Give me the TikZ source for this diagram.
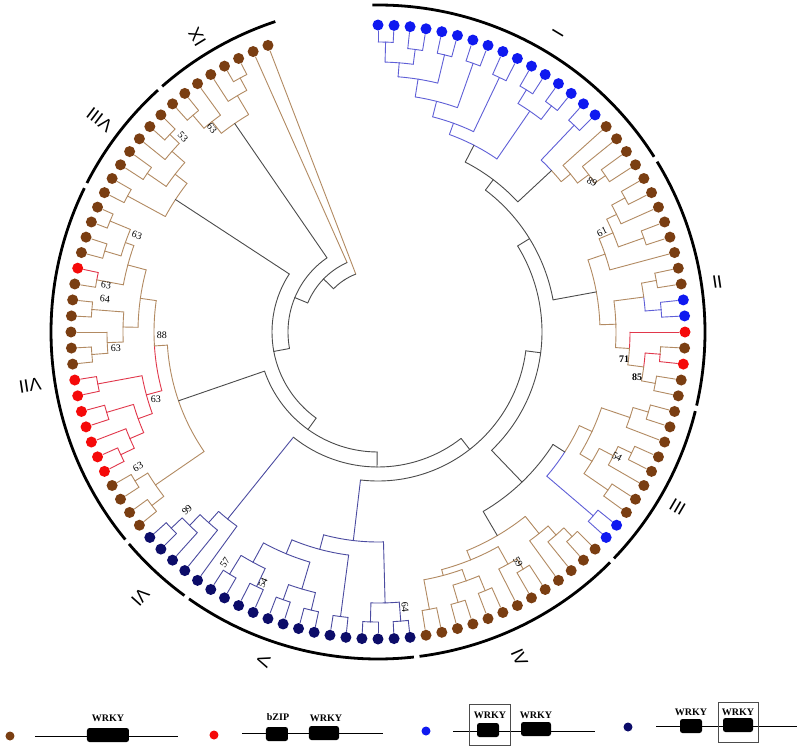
\documentclass[tikz,border=0pt]{standalone}
\usepackage{fontspec}
\setmainfont{Liberation Serif}
\newfontfamily\romfont{Liberation Sans}
\definecolor{tn}{RGB}{178,138,98}
\definecolor{bl}{RGB}{95,95,215}
\definecolor{nv}{RGB}{75,75,160}
\definecolor{rd}{RGB}{225,55,75}
\definecolor{gr}{RGB}{75,75,75}
\definecolor{dbr}{RGB}{122,62,18}
\definecolor{drd}{RGB}{245,10,10}
\definecolor{dbl}{RGB}{15,25,240}
\definecolor{dnv}{RGB}{12,12,105}
\newcommand{\TNode}[7]{%
 \draw[color=#1,brl] ({90-(#4)}:#6pt) arc[start angle={90-(#4)}, end angle={90-((#4)+(#5))/2}, radius=#6pt];
 \draw[color=#2,brl] ({90-((#4)+(#5))/2}:#6pt) arc[start angle={90-((#4)+(#5))/2}, end angle={90-(#5)}, radius=#6pt];
 \draw[color=#3,brl] ({90-((#4)+(#5))/2}:#7pt) -- ({90-((#4)+(#5))/2}:#6pt);}
\newcommand{\TLeaf}[3]{\draw[color=#1,brl] ({90-3*(#2)}:#3pt) -- ({90-3*(#2)}:301pt);}
\newcommand{\CladeArc}[2]{\draw[cladearc] ({90-(#1)}:327pt) arc[start angle={90-(#1)}, end angle={90-(#2)}, radius=327pt];}
\begin{document}
\begin{tikzpicture}[x=1pt,y=1pt,
 brl/.style={line width=0.9pt, line cap=round},
 cladearc/.style={line width=2.8pt, black},
 dot/.style={circle, inner sep=0pt, minimum size=11pt, draw=none},
 rom/.style={font=\romfont\fontsize{18}{18}\selectfont, inner sep=0pt},
 bs/.style={font=\fontsize{10}{10}\selectfont, inner sep=0pt},
 bsb/.style={font=\fontsize{10}{10}\selectfont\bfseries, inner sep=0pt},
 keyline/.style={line width=1pt, black},
 dombox/.style={fill=black, rounded corners=2.5pt, inner sep=0pt, minimum height=14pt},
 domlab/.style={font=\fontsize{10}{10}\selectfont\bfseries, inner sep=0pt},
 framebox/.style={draw=black!70, line width=0.6pt, inner sep=0pt}]
\useasboundingbox (-378,-416) rectangle (422,332);
\fill[white] (-378,-416) rectangle (422,332);

% ---------- leaf branches ----------
\foreach \ii/\rr/\cc in {0/290/bl,1/290/bl,2/285/bl,3/285/bl,4/285/bl,5/285/bl,6/285/bl,7/285/bl,8/282/bl,9/282/bl,10/284/bl,11/284/bl,12/285/bl,13/285/bl,14/285/bl,15/285/bl,
16/249/tn,17/263/tn,18/276/tn,19/276/tn,
20/281/tn,21/281/tn,22/266/tn,23/282/tn,24/282/tn,25/240/tn,26/283/tn,27/283/tn,28/284/bl,29/284/bl,30/252/rd,31/283/tn,32/283/rd,33/282/tn,34/282/tn,
35/282/tn,36/282/tn,37/266/tn,38/281/tn,39/281/tn,40/266/tn,41/279/tn,42/279/tn,43/283/bl,44/283/bl,
45/282/tn,46/282/tn,47/270/tn,48/258/tn,49/278/tn,50/278/tn,51/266/tn,52/280/tn,53/280/tn,54/282/tn,55/282/tn,56/282/tn,57/282/tn,
58/290/nv,59/290/nv,60/290/nv,61/290/nv,62/287/nv,63/287/nv,64/286/nv,65/286/nv,66/284/nv,67/284/nv,68/282/nv,69/282/nv,70/284/nv,71/284/nv,
72/240/nv,73/255/nv,74/270/nv,75/285/nv,76/285/nv,
77/285/tn,78/285/tn,79/285/tn,80/285/tn,81/285/rd,82/285/rd,83/270/rd,84/283/rd,85/283/rd,86/285/rd,87/285/rd,
88/287/tn,89/287/tn,90/271/tn,91/287/tn,92/287/tn,93/286/tn,94/286/rd,95/285/tn,96/285/tn,97/290/tn,98/290/tn,
99/285/tn,100/285/tn,101/280/tn,102/280/tn,103/274/tn,104/287/tn,105/287/tn,
106/285/tn,107/285/tn,108/268/tn,109/275/tn,110/289/tn,111/289/tn,112/76/tn,113/62/tn}
{\TLeaf{\cc}{\ii}{\rr}}

% ---------- clade I ----------
\TNode{bl}{bl}{bl}{0}{3}{290}{270}
\TNode{bl}{bl}{bl}{6}{9}{285}{270}
\TNode{bl}{bl}{bl}{1.5}{7.5}{270}{256}
\TNode{bl}{bl}{bl}{12}{15}{285}{256}
\TNode{bl}{bl}{bl}{4.5}{13.5}{256}{238}
\TNode{bl}{bl}{bl}{18}{21}{285}{238}
\TNode{bl}{bl}{bl}{9}{19.5}{238}{222}
\TNode{bl}{bl}{bl}{24}{27}{282}{222}
\TNode{bl}{bl}{bl}{14.25}{25.5}{222}{210}
\TNode{bl}{bl}{bl}{30}{33}{284}{268}
\TNode{bl}{bl}{bl}{36}{39}{285}{268}
\TNode{bl}{bl}{bl}{31.5}{37.5}{268}{210}
\TNode{bl}{bl}{gr}{19.875}{34.5}{210}{191}
\TNode{bl}{bl}{bl}{42}{45}{285}{237}
\TNode{tn}{tn}{tn}{54}{57}{276}{263}
\TNode{tn}{tn}{tn}{51}{55.5}{263}{249}
\TNode{tn}{tn}{tn}{48}{53.25}{249}{237}
\TNode{bl}{tn}{gr}{43.5}{50.625}{237}{191}
\TNode{gr}{gr}{gr}{27.1875}{47.0625}{191}{178}
% ---------- clade II ----------
\TNode{tn}{tn}{tn}{60}{63}{281}{266}
\TNode{tn}{tn}{tn}{61.5}{66}{266}{255}
\TNode{tn}{tn}{tn}{69}{72}{282}{255}
\TNode{tn}{tn}{tn}{63.75}{70.5}{255}{240}
\TNode{tn}{tn}{tn}{67.125}{75}{240}{222}
\TNode{tn}{tn}{tn}{78}{81}{283}{268}
\TNode{bl}{bl}{bl}{84}{87}{284}{268}
\TNode{tn}{bl}{tn}{79.5}{85.5}{268}{238}
\TNode{tn}{rd}{rd}{93}{96}{283}{268}
\TNode{tn}{tn}{tn}{99}{102}{282}{268}
\TNode{rd}{tn}{tn}{94.5}{100.5}{268}{252}
\TNode{rd}{tn}{tn}{90}{97.5}{252}{238}
\TNode{tn}{tn}{tn}{82.5}{93.75}{238}{222}
\TNode{tn}{tn}{gr}{71.0625}{88.125}{222}{178}
\TNode{gr}{gr}{gr}{37.125}{79.59}{178}{164}
% ---------- clade III ----------
\TNode{tn}{tn}{tn}{105}{108}{282}{266}
\TNode{tn}{tn}{tn}{106.5}{111}{266}{236}
\TNode{tn}{tn}{tn}{114}{117}{281}{266}
\TNode{tn}{tn}{tn}{115.5}{120}{266}{250}
\TNode{tn}{tn}{tn}{123}{126}{279}{250}
\TNode{tn}{tn}{tn}{117.75}{124.5}{250}{236}
\TNode{tn}{tn}{tn}{108.75}{121.125}{236}{222}
\TNode{bl}{bl}{bl}{129}{132}{283}{222}
\TNode{tn}{bl}{gr}{114.94}{130.5}{222}{208}
% ---------- clade IV ----------
\TNode{tn}{tn}{tn}{135}{138}{282}{270}
\TNode{tn}{tn}{tn}{136.5}{141}{270}{258}
\TNode{tn}{tn}{tn}{138.75}{144}{258}{236}
\TNode{tn}{tn}{tn}{147}{150}{278}{266}
\TNode{tn}{tn}{tn}{148.5}{153}{266}{246}
\TNode{tn}{tn}{tn}{156}{159}{280}{264}
\TNode{tn}{tn}{tn}{162}{165}{282}{264}
\TNode{tn}{tn}{tn}{157.5}{163.5}{264}{252}
\TNode{tn}{tn}{tn}{168}{171}{282}{252}
\TNode{tn}{tn}{tn}{160.5}{169.5}{252}{246}
\TNode{tn}{tn}{tn}{150.75}{165}{246}{236}
\TNode{tn}{tn}{gr}{141.375}{157.875}{236}{208}
\TNode{gr}{gr}{gr}{122.72}{149.625}{208}{164}
\TNode{gr}{gr}{gr}{58.36}{136.17}{164}{149}
% ---------- clade V ----------
\TNode{nv}{nv}{nv}{174}{177}{290}{271}
\TNode{nv}{nv}{nv}{180}{183}{290}{271}
\TNode{nv}{nv}{nv}{175.5}{181.5}{271}{210}
\TNode{nv}{nv}{nv}{186}{189}{287}{225}
\TNode{nv}{nv}{nv}{192}{195}{286}{268}
\TNode{nv}{nv}{nv}{198}{201}{284}{268}
\TNode{nv}{nv}{nv}{193.5}{199.5}{268}{240}
\TNode{nv}{nv}{nv}{204}{207}{282}{262}
\TNode{nv}{nv}{nv}{210}{213}{284}{262}
\TNode{nv}{nv}{nv}{205.5}{211.5}{262}{240}
\TNode{nv}{nv}{nv}{196.5}{208.5}{240}{225}
\TNode{nv}{nv}{nv}{187.5}{202.5}{225}{210}
\TNode{nv}{nv}{nv}{178.5}{195}{210}{149}
\TNode{gr}{gr}{gr}{186.75}{97.27}{149}{135}
% ---------- clade VI ----------
\TNode{nv}{nv}{nv}{225}{228}{285}{270}
\TNode{nv}{nv}{nv}{222}{226.5}{270}{255}
\TNode{nv}{nv}{nv}{219}{224.25}{255}{240}
\TNode{nv}{nv}{nv}{216}{221.625}{240}{135}
\TNode{gr}{gr}{gr}{218.81}{142.01}{135}{120}
% ---------- clade VII ----------
\TNode{tn}{tn}{tn}{231}{234}{285}{270}
\TNode{tn}{tn}{tn}{237}{240}{285}{270}
\TNode{tn}{tn}{tn}{232.5}{238.5}{270}{211}
\TNode{rd}{rd}{rd}{243}{246}{285}{270}
\TNode{rd}{rd}{rd}{244.5}{249}{270}{255}
\TNode{rd}{rd}{rd}{252}{255}{283}{255}
\TNode{rd}{rd}{rd}{246.75}{253.5}{255}{240}
\TNode{rd}{rd}{rd}{258}{261}{285}{240}
\TNode{rd}{rd}{rd}{250.125}{259.5}{240}{224}
\TNode{tn}{tn}{tn}{264}{267}{287}{271}
\TNode{tn}{tn}{tn}{265.5}{270}{271}{255}
\TNode{tn}{tn}{tn}{273}{276}{287}{255}
\TNode{tn}{tn}{tn}{267.75}{274.5}{255}{240}
\TNode{tn}{rd}{tn}{279}{282}{286}{259}
\TNode{tn}{tn}{tn}{285}{288}{285}{268}
\TNode{tn}{tn}{tn}{291}{294}{290}{268}
\TNode{tn}{tn}{tn}{286.5}{292.5}{268}{259}
\TNode{tn}{tn}{tn}{280.5}{289.5}{259}{240}
\TNode{tn}{tn}{tn}{271.125}{285}{240}{224}
\TNode{rd}{tn}{tn}{254.81}{278.06}{224}{211}
\TNode{tn}{tn}{gr}{235.5}{266.44}{211}{120}
\TNode{gr}{gr}{gr}{250.97}{180.41}{120}{106}
% ---------- clade VIII ----------
\TNode{tn}{tn}{tn}{297}{300}{285}{242}
\TNode{tn}{tn}{tn}{303}{306}{280}{257}
\TNode{tn}{tn}{tn}{312}{315}{287}{274}
\TNode{tn}{tn}{tn}{309}{313.5}{274}{257}
\TNode{tn}{tn}{tn}{304.5}{311.25}{257}{242}
\TNode{tn}{tn}{gr}{298.5}{307.875}{242}{106}
\TNode{gr}{gr}{gr}{303.19}{215.69}{106}{90}
% ---------- clade IX ----------
\TNode{tn}{tn}{tn}{318}{321}{285}{268}
\TNode{tn}{tn}{tn}{319.5}{324}{268}{253}
\TNode{tn}{tn}{tn}{330}{333}{289}{275}
\TNode{tn}{tn}{tn}{327}{331.5}{275}{253}
\TNode{tn}{tn}{gr}{321.75}{329.25}{253}{90}
\TNode{gr}{gr}{gr}{325.5}{259.44}{90}{76}
\TNode{gr}{gr}{gr}{336}{292.47}{76}{62}
\TNode{gr}{gr}{gr}{339}{314.24}{62}{62}

% ---------- leaf dots ----------
\foreach \ii in {0,...,15,28,29,43,44}
  \node[dot, fill=dbl] (L\ii) at ({90-3*\ii}:307pt) {};
\foreach \ii in {30,32,81,82,83,84,85,86,87,94}
  \node[dot, fill=drd] (L\ii) at ({90-3*\ii}:307pt) {};
\foreach \ii in {58,...,76}
  \node[dot, fill=dnv] (L\ii) at ({90-3*\ii}:307pt) {};
\foreach \ii in {16,...,27,31,33,34,35,36,37,38,39,40,41,42,45,46,47,48,49,50,51,52,53,54,55,56,57,77,78,79,80,88,89,90,91,92,93,95,96,97,98,99,100,101,102,103,104,105,106,107,108,109,110,111,112,113}
  \node[dot, fill=dbr] (L\ii) at ({90-3*\ii}:307pt) {};

% ---------- group arcs ----------
\CladeArc{-1.0}{57.6}
\CladeArc{58.6}{103.0}
\CladeArc{104.0}{133.8}
\CladeArc{134.8}{172.7}
\CladeArc{173.7}{215.3}
\CladeArc{216.3}{229.6}
\CladeArc{230.6}{296.1}
\CladeArc{297.1}{317.7}
\CladeArc{318.7}{341.7}

% ---------- group labels ----------
\node[rom, rotate=59]    (gI)    at (59:349pt)    {I};
\node[rom, rotate=8.4]   (gII)   at (8.4:343pt)   {II};
\node[rom, rotate=-30.3] (gIII)  at (-30.3:347pt) {III};
\node[rom, rotate=-66.5] (gIV)   at (-66.5:355pt) {IV};
\node[rom, rotate=-109.2](gV)    at (-109.2:349pt){V};
\node[rom, rotate=-131.9](gVI)   at (-131.9:356pt){VI};
\node[rom, rotate=-171.3](gVII)  at (-171.3:352pt){VII};
\node[rom, rotate=142.7] (gVIII) at (142.7:350pt) {VIII};
\node[rom, rotate=121.5] (gIX)   at (121.5:346pt) {IX};

% ---------- bootstrap values ----------
\node[bs, rotate=-30] (b1)  at (214,150)  {89};
\node[bs, rotate=25]  (b2)  at (224,100)  {61};
\node[bsb]            (b3)  at (246,-27)  {71};
\node[bsb]            (b4)  at (259,-45)  {85};
\node[bs, rotate=-28] (b5)  at (239,-125) {54};
\node[bs, rotate=-60] (b6)  at (140,-230) {59};
\node[bs, rotate=-85] (b7)  at (27,-275)  {64};
\node[bs, rotate=-45] (b8)  at (-195,195) {53};
\node[bs, rotate=-50] (b9)  at (-166,204) {63};
\node[bs, rotate=-20] (b10) at (-241,97)  {63};
\node[bs, rotate=-8]  (b11) at (-272,47)  {63};
\node[bs, rotate=-6]  (b12) at (-273,33)  {64};
\node[bs]             (b13) at (-262,-16) {63};
\node[bs]             (b14) at (-216,-3)  {88};
\node[bs]             (b15) at (-222,-67) {63};
\node[bs, rotate=28]  (b16) at (-240,-135){63};
\node[bs, rotate=43]  (b17) at (-191,-178){99};
\node[bs, rotate=56]  (b18) at (-153,-231){57};
\node[bs, rotate=65]  (b19) at (-115,-251){54};

% ---------- legend ----------
\node[dot, minimum size=9pt, fill=dbr] (kb) at (-368,-404) {};
\coordinate (kbA) at (-343,-404); \coordinate (kbB) at (-200,-404);
\draw[keyline] (kbA) -- (kbB);
\node[dombox, minimum width=42pt] (kbW) at (-270,-403) {};
\node[domlab] (kbWt) at (-270,-386) {WRKY};

\node[dot, minimum size=9pt, fill=drd] (kr) at (-164,-403) {};
\coordinate (krA) at (-136,-401); \coordinate (krB) at (5,-401);
\draw[keyline] (krA) -- (krB);
\node[dombox, minimum width=22pt] (krZ) at (-101,-402) {};
\node[domlab] (krZt) at (-100,-385) {bZIP};
\node[dombox, minimum width=30pt] (krW) at (-54,-401) {};
\node[domlab] (krWt) at (-52,-386) {WRKY};

\node[dot, minimum size=9pt, fill=dbl] (kl) at (48,-399) {};
\coordinate (klA) at (75,-399); \coordinate (klB) at (217,-399);
\draw[keyline] (klA) -- (klB);
\node[framebox, minimum width=41pt, minimum height=41pt] (klF) at (111.5,-392.5) {};
\node[dombox, minimum width=22pt] (klW1) at (110,-398) {};
\node[domlab] (klW1t) at (112,-383) {WRKY};
\node[dombox, minimum width=30pt] (klW2) at (158,-397) {};
\node[domlab] (klW2t) at (158,-383) {WRKY};

\node[dot, minimum size=9pt, fill=dnv] (kn) at (250,-395) {};
\coordinate (knA) at (278,-394); \coordinate (knB) at (419,-394);
\draw[keyline] (knA) -- (knB);
\node[dombox, minimum width=22pt] (knW1) at (313,-394) {};
\node[domlab] (knW1t) at (313,-380) {WRKY};
\node[framebox, minimum width=40pt, minimum height=40pt] (knF) at (360,-390) {};
\node[dombox, minimum width=30pt] (knW2) at (360,-393) {};
\node[domlab] (knW2t) at (360,-380) {WRKY};
\end{tikzpicture}
\end{document}
